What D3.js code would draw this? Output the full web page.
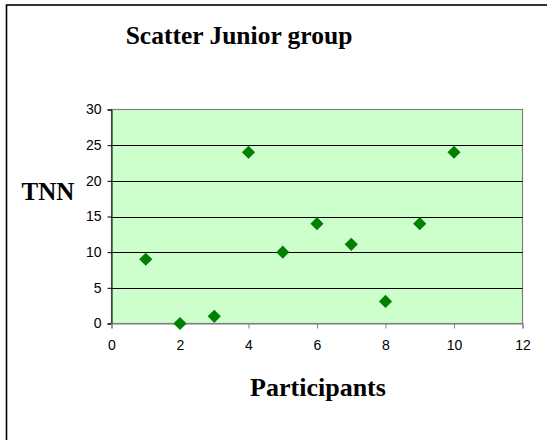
<!DOCTYPE html>
<html><head><meta charset="utf-8">
<script src="https://cdn.jsdelivr.net/npm/d3@7"></script>
<style>html,body{margin:0;padding:0;background:#fff;overflow:hidden}</style>
</head><body>
<svg id="c" width="547" height="440"></svg>
<script>
const participants = [1,2,3,4,5,6,7,8,9,10];
const tnn = [9,0,1,24,10,14,11.1,3.1,14,24];
const xTicks = [0,2,4,6,8,10,12];
const yTicks = [0,5,10,15,20,25,30];
const title = "Scatter Junior group";
const xTitle = "Participants";
const yTitle = "TNN";

const svg = d3.select("#c");
svg.append("rect").attr("x",6.5).attr("y",5).attr("width",600).attr("height",500)
  .attr("fill","#fff").attr("stroke","#000").attr("stroke-width",1.6);

const L=111.5, R=522.5, T=109.5, B=323.5;
const x = d3.scaleLinear().domain([0,12]).range([L,R]);
const y = d3.scaleLinear().domain([0,30]).range([B,T]);

svg.append("rect").attr("x",L).attr("y",T).attr("width",R-L).attr("height",B-T)
  .attr("fill","#CCFFCC").attr("stroke","#808080").attr("stroke-width",1.2);

svg.append("g").selectAll("line").data(yTicks.filter(d=>d>0 && d<30)).join("line")
  .attr("x1",L).attr("x2",R).attr("y1",d=>Math.round(y(d))+0.5).attr("y2",d=>Math.round(y(d))+0.5)
  .attr("stroke","#000").attr("stroke-width",1);

const yAxis = svg.append("g").attr("transform",`translate(${L},0)`)
  .call(d3.axisLeft(y).tickValues(yTicks).tickSize(4).tickPadding(6));
yAxis.select(".domain").attr("stroke","#000");
yAxis.selectAll(".tick line").attr("stroke","#000");
yAxis.selectAll("text").attr("font-family","'Liberation Sans',Arial,sans-serif").attr("font-size",14).attr("fill","#000");

const xAxis = svg.append("g").attr("transform",`translate(0,${B})`)
  .call(d3.axisBottom(x).tickValues(xTicks).tickSize(5).tickPadding(12));
xAxis.select(".domain").attr("stroke","#808080").attr("stroke-width",1.2);
xAxis.selectAll(".tick line").attr("stroke","#808080");
xAxis.selectAll("text").attr("font-family","'Liberation Sans',Arial,sans-serif").attr("font-size",14).attr("fill","#000");

const sym = d3.symbol().type(d3.symbolDiamond2).size(110);
svg.append("g").selectAll("path").data(participants.map((p,i)=>[p,tnn[i]])).join("path")
  .attr("d",sym).attr("transform",d=>`translate(${x(d[0])},${y(d[1])})`)
  .attr("fill","#008000");

const serif = "'Liberation Serif','Times New Roman',serif";
svg.append("text").attr("x",239).attr("y",44).attr("text-anchor","middle")
  .attr("font-family",serif).attr("font-weight","bold").attr("font-size",25.5).text(title);
svg.append("text").attr("x",48).attr("y",200).attr("text-anchor","middle")
  .attr("font-family",serif).attr("font-weight","bold").attr("font-size",25).text(yTitle);
svg.append("text").attr("x",318).attr("y",396).attr("text-anchor","middle")
  .attr("font-family",serif).attr("font-weight","bold").attr("font-size",26).text(xTitle);
</script>
</body></html>
